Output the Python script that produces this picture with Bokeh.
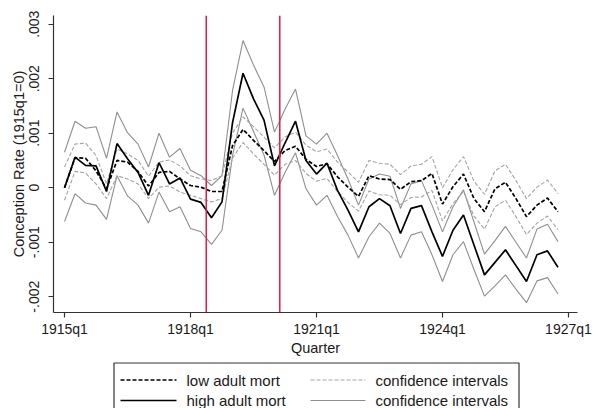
from bokeh.plotting import figure
from bokeh.models import Range1d, FixedTicker, Span, ColumnDataSource
from bokeh.layouts import column
from bokeh.embed import file_html
from bokeh.resources import INLINE
from bokeh.core.properties import value

# ---------------- data ----------------
quarter_index = list(range(48))  # 1915q1 .. 1926q4
x_tick_positions = [0, 12, 24, 36, 48]
x_tick_labels = ["1915q1", "1918q1", "1921q1", "1924q1", "1927q1"]
y_tick_values = [-0.002, -0.001, 0.0, 0.001, 0.002, 0.003]
y_tick_labels = ["-.002", "-.001", "0", ".001", ".002", ".003"]
event_quarters = [13.5, 20.5]

low_mort = [0.0, 0.00055, 0.00054, 0.00031, -0.00002, 0.00050, 0.00047, 0.00030,
            0.00003, 0.00028, 0.00030, 0.00016, 0.00004, 0.00001, -0.00007, -0.00007,
            0.00077, 0.00107, 0.00087, 0.00068, 0.00048, 0.00068, 0.00076, 0.00052,
            0.00039, 0.00044, 0.00020, 0.00001, -0.00016, 0.00022, 0.00016, 0.00015,
            -0.00003, 0.00011, 0.00013, 0.00026, -0.00030, 0.00002, 0.00025, -0.00020,
            -0.00044, -0.00002, 0.00010, -0.00020, -0.00053, -0.00032, -0.00019, -0.00044]
low_upper = [0.00038, 0.00080, 0.00082, 0.00059, 0.00007, 0.00071, 0.00062, 0.00050,
             0.00021, 0.00047, 0.00051, 0.00040, 0.00022, 0.00016, 0.00013, 0.00022,
             0.00100, 0.00130, 0.00112, 0.00093, 0.00073, 0.00093, 0.00102, 0.00078,
             0.00066, 0.00071, 0.00047, 0.00029, 0.00010, 0.00050, 0.00045, 0.00043,
             0.00024, 0.00040, 0.00043, 0.00057, 0.00000, 0.00033, 0.00057, 0.00012,
             -0.00012, 0.00031, 0.00043, 0.00013, -0.00020, 0.00001, 0.00014, -0.00011]
low_lower = [-0.00023, 0.00030, 0.00027, 0.00007, -0.00020, 0.00022, 0.00016, 0.00007,
             -0.00020, 0.00001, 0.00003, -0.00008, -0.00014, -0.00020, -0.00026, -0.00020,
             0.00054, 0.00083, 0.00062, 0.00043, 0.00023, 0.00043, 0.00050, 0.00026,
             0.00012, 0.00017, -0.00007, -0.00027, -0.00043, -0.00006, -0.00013, -0.00014,
             -0.00031, -0.00018, -0.00017, -0.00005, -0.00061, -0.00029, -0.00007, -0.00052,
             -0.00076, -0.00035, -0.00023, -0.00053, -0.00086, -0.00065, -0.00052, -0.00077]

high_mort = [0.0, 0.00056, 0.00041, 0.00040, -0.00007, 0.00081, 0.00053, 0.00028,
             -0.00014, 0.00046, 0.00007, 0.00018, -0.00021, -0.00027, -0.00055, -0.00026,
             0.00119, 0.00210, 0.00163, 0.00124, 0.00040, 0.00082, 0.00122, 0.00050,
             0.00025, 0.00045, -0.00005, -0.00041, -0.00081, -0.00035, -0.00020, -0.00033,
             -0.00084, -0.00038, -0.00033, -0.00081, -0.00126, -0.00078, -0.00050, -0.00105,
             -0.00160, -0.00137, -0.00114, -0.00143, -0.00172, -0.00123, -0.00116, -0.00146]
high_upper = [0.00065, 0.00122, 0.00109, 0.00112, 0.00054, 0.00139, 0.00101, 0.00080,
              0.00038, 0.00100, 0.00056, 0.00072, 0.00032, 0.00022, 0.00004, 0.00022,
              0.00178, 0.00270, 0.00225, 0.00185, 0.00102, 0.00144, 0.00181, 0.00095,
              0.00080, 0.00100, 0.00059, 0.00016, -0.00032, 0.00016, 0.00025, 0.00021,
              -0.00038, 0.00007, 0.00013, -0.00032, -0.00081, -0.00035, -0.00004, -0.00063,
              -0.00122, -0.00097, -0.00071, -0.00100, -0.00129, -0.00076, -0.00067, -0.00099]
high_lower = [-0.00062, -0.00011, -0.00028, -0.00032, -0.00058, 0.00022, -0.00015, -0.00032,
              -0.00065, -0.00008, -0.00044, -0.00035, -0.00075, -0.00081, -0.00104, -0.00078,
              0.00059, 0.00146, 0.00103, 0.00060, -0.00014, 0.00028, 0.00064, -0.00002,
              -0.00032, -0.00014, -0.00053, -0.00087, -0.00129, -0.00090, -0.00065, -0.00084,
              -0.00129, -0.00087, -0.00081, -0.00123, -0.00172, -0.00123, -0.00099, -0.00150,
              -0.00199, -0.00180, -0.00160, -0.00186, -0.00211, -0.00171, -0.00165, -0.00195]

legend_labels = ["low adult mort", "high adult mort", "confidence intervals", "confidence intervals"]

# ---------------- styles ----------------
FONT = "Liberation Sans"
TXT = "#1a1a1a"
AX = "#333333"
RED = "#d0284e"
CI_HIGH = "#8f8f8f"
CI_LOW = "#a3a3a3"
DASH = "4 2"

src = ColumnDataSource(dict(q=quarter_index, low=low_mort, low_u=low_upper, low_l=low_lower,
                            high=high_mort, high_u=high_upper, high_l=high_lower))

p = figure(width=593, height=358, x_range=Range1d(-1.05, 48.86), y_range=Range1d(-0.00229, 0.00316),
           output_backend="svg", toolbar_location=None,
           min_border_left=53, min_border_right=16, min_border_top=15, min_border_bottom=43)
p.outline_line_color = None
p.xgrid.visible = False
p.ygrid.visible = False
p.background_fill_color = "white"
p.border_fill_color = "white"

for loc in event_quarters:
    p.add_layout(Span(location=loc, dimension="height", line_color=RED, line_width=1.6))

p.line("q", "high_u", source=src, line_color=CI_HIGH, line_width=1.1)
p.line("q", "high_l", source=src, line_color=CI_HIGH, line_width=1.1)
p.line("q", "low_u", source=src, line_color=CI_LOW, line_width=1.1, line_dash=DASH)
p.line("q", "low_l", source=src, line_color=CI_LOW, line_width=1.1, line_dash=DASH)
p.line("q", "high", source=src, line_color="black", line_width=1.7)
p.line("q", "low", source=src, line_color="black", line_width=1.7, line_dash=DASH)

p.xaxis.ticker = FixedTicker(ticks=x_tick_positions)
p.xaxis.major_label_overrides = dict(zip(x_tick_positions, x_tick_labels))
p.yaxis.ticker = FixedTicker(ticks=y_tick_values)
p.yaxis.major_label_overrides = dict(zip(y_tick_values, y_tick_labels))
p.yaxis.major_label_orientation = "vertical"
p.xaxis.axis_label = "Quarter"
p.yaxis.axis_label = "Conception Rate (1915q1=0)"

for ax in (p.xaxis, p.yaxis):
    ax.axis_line_color = AX
    ax.axis_line_width = 1.2
    ax.major_tick_line_color = AX
    ax.major_tick_line_width = 1.2
    ax.major_tick_out = 5
    ax.major_tick_in = 0
    ax.minor_tick_line_color = None
    ax.major_label_text_font = FONT
    ax.major_label_text_font_size = "14px"
    ax.major_label_text_color = TXT
    ax.axis_label_text_font = FONT
    ax.axis_label_text_font_size = "14.5px"
    ax.axis_label_text_font_style = "normal"
    ax.axis_label_text_color = TXT
    ax.axis_label_standoff = 0
p.xaxis.major_label_standoff = 3
p.yaxis.major_label_standoff = 9

# ---------------- legend panel ----------------
# the column layout aligns this panel's frame with the main frame (x 53..577 px),
# so the x range is given in page pixels over that span
lg = figure(width=593, height=50, x_range=Range1d(53, 577), y_range=Range1d(50, 0),
            output_backend="svg", toolbar_location=None,
            x_axis_location=None, y_axis_location=None,
            min_border_left=53, min_border_right=16, min_border_top=0, min_border_bottom=0)
lg.xgrid.visible = False
lg.ygrid.visible = False
lg.outline_line_color = None
lg.background_fill_color = "white"
lg.border_fill_color = "white"

lg.quad(left=[113.5], right=[518.5], top=[4.5], bottom=[70], fill_color=None, line_color=AX, line_width=1.2)
row_y = [21.5, 42]
lg.line([120, 176], [row_y[0]] * 2, line_color="black", line_width=1.7, line_dash=DASH)
lg.line([120, 176], [row_y[1]] * 2, line_color="black", line_width=1.7)
lg.line([310, 365], [row_y[0]] * 2, line_color=CI_LOW, line_width=1.1, line_dash=DASH)
lg.line([310, 365], [row_y[1]] * 2, line_color=CI_HIGH, line_width=1.1)
lg.text(x=[186, 186, 375, 375], y=[row_y[0], row_y[1], row_y[0], row_y[1]], text=legend_labels,
        text_baseline="middle", text_align="left", text_font=value(FONT),
        text_font_size="15px", text_color=TXT)

layout = column(p, lg, spacing=0)
open("out.html", "w").write(file_html(layout, INLINE))
